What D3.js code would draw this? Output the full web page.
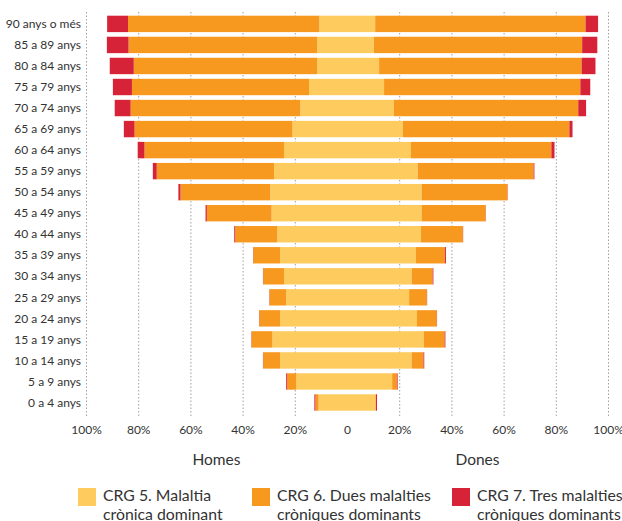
<!DOCTYPE html>
<html>
<head>
<meta charset="utf-8">
<script src="https://cdn.jsdelivr.net/npm/d3@7"></script>
<style>
  body { margin: 0; background: #fff; }
  svg { display: block; font-family: Lato, "Open Sans", sans-serif; }
</style>
</head>
<body>
<script>
const ages = ["90 anys o més", "85 a 89 anys", "80 a 84 anys", "75 a 79 anys", "70 a 74 anys",
  "65 a 69 anys", "60 a 64 anys", "55 a 59 anys", "50 a 54 anys", "45 a 49 anys", "40 a 44 anys",
  "35 a 39 anys", "30 a 34 anys", "25 a 29 anys", "20 a 24 anys", "15 a 19 anys", "10 a 14 anys",
  "5 a 9 anys", "0 a 4 anys"];

// percentages, men (Homes) drawn to the left, women (Dones) to the right
const homesCrg5 = [10.6, 11.4, 11.4, 14.5, 17.9, 20.9, 24.1, 27.9, 29.4, 28.9, 26.7, 25.6, 24.1, 23.3, 25.6, 28.6, 25.6, 19.4, 10.9];
const homesCrg6 = [73.3, 72.3, 70.3, 67.9, 65.0, 60.5, 53.5, 45.0, 34.4, 24.8, 16.1, 10.3, 8.0, 6.4, 8.0, 8.0, 6.5, 3.5, 1.2];
const homesCrg7 = [8.0, 8.3, 9.2, 7.3, 6.1, 4.1, 2.6, 1.5, 0.8, 0.5, 0.4, 0.1, 0.1, 0.1, 0.1, 0.1, 0.1, 0.4, 0.4];
const donesCrg5 = [10.8, 10.3, 12.3, 14.2, 18.0, 21.4, 24.5, 27.1, 28.6, 28.6, 28.3, 26.4, 24.8, 23.8, 26.8, 29.4, 24.8, 17.3, 10.9];
const donesCrg6 = [80.6, 79.8, 77.6, 75.2, 70.6, 63.8, 53.8, 44.4, 32.9, 24.5, 16.1, 11.1, 8.0, 6.8, 7.6, 8.0, 4.5, 1.8, 0.2];
const donesCrg7 = [4.8, 5.8, 5.3, 3.8, 3.0, 1.2, 1.2, 0.3, 0.1, 0.1, 0.1, 0.4, 0.3, 0.1, 0.1, 0.3, 0.3, 0.3, 0.4];

const tickValues = [-100, -80, -60, -40, -20, 0, 20, 40, 60, 80, 100];
const sexLabels = ["Homes", "Dones"];
const groupLabels = [
  ["CRG 5. Malaltia", "crònica dominant"],
  ["CRG 6. Dues malalties", "cròniques dominants"],
  ["CRG 7. Tres malalties", "cròniques dominants"]
];
const colors = ["#fecb5e", "#f7991f", "#d62337"];

const width = 622, height = 521;
const svg = d3.select("body").append("svg")
    .attr("width", width)
    .attr("height", height);

const x = d3.scaleLinear().domain([-100, 100]).range([86, 608]);
const y = d3.scaleBand().domain(ages).range([15.7, 410.7]).paddingInner(0.22).paddingOuter(0);

// gridlines
svg.append("g")
  .selectAll("line")
  .data(tickValues.filter(d => d !== 0))
  .enter().append("line")
    .attr("x1", d => x(d) + 0.5)
    .attr("x2", d => x(d) + 0.5)
    .attr("y1", 12)
    .attr("y2", 416)
    .attr("stroke", "#a0a0a0")
    .attr("stroke-width", 1)
    .attr("stroke-dasharray", "1.5,2");

// build segments
const segs = [];
ages.forEach((age, i) => {
  const h = [homesCrg5[i], homesCrg6[i], homesCrg7[i]];
  const w = [donesCrg5[i], donesCrg6[i], donesCrg7[i]];
  let acc = 0;
  h.forEach((v, k) => { segs.push({age, k, x0: -(acc + v), x1: -acc}); acc += v; });
  acc = 0;
  w.forEach((v, k) => { segs.push({age, k, x0: acc, x1: acc + v}); acc += v; });
});

svg.append("g")
  .selectAll("rect")
  .data(segs)
  .enter().append("rect")
    .attr("x", d => x(d.x0))
    .attr("y", d => y(d.age))
    .attr("width", d => x(d.x1) - x(d.x0))
    .attr("height", y.bandwidth())
    .attr("fill", d => colors[d.k]);

// age labels
svg.append("g")
  .selectAll("text")
  .data(ages)
  .enter().append("text")
    .attr("x", 81)
    .attr("y", d => y(d) + y.bandwidth() / 2)
    .attr("dy", "0.35em")
    .attr("text-anchor", "end")
    .attr("font-size", 12)
    .attr("fill", "#333")
    .text(d => d);

// x axis
const xAxis = svg.append("g")
    .attr("transform", "translate(0,416)")
    .call(d3.axisBottom(x).tickValues(tickValues).tickSize(0).tickPadding(9)
      .tickFormat(d => d === 0 ? "0" : Math.abs(d) + "%"));
xAxis.select(".domain").remove();
xAxis.selectAll("text")
    .attr("font-family", "Lato, sans-serif")
    .attr("font-size", 12)
    .attr("fill", "#333");

// sex labels
svg.append("g")
  .selectAll("text")
  .data(sexLabels)
  .enter().append("text")
    .attr("x", (d, i) => i === 0 ? x(-50) : x(50))
    .attr("y", 465)
    .attr("text-anchor", "middle")
    .attr("font-size", 15.5)
    .attr("fill", "#333")
    .text(d => d);

// legend
const legendX = [78, 252, 452];
const legend = svg.append("g")
  .selectAll("g")
  .data(groupLabels)
  .enter().append("g")
    .attr("transform", (d, i) => `translate(${legendX[i]},0)`);

legend.append("rect")
    .attr("y", 488)
    .attr("width", 18)
    .attr("height", 18)
    .attr("fill", (d, i) => colors[i]);

legend.append("text")
    .attr("x", 25)
    .attr("font-size", 15.8)
    .attr("fill", "#333")
  .selectAll("tspan")
  .data(d => d)
  .enter().append("tspan")
    .attr("x", 25)
    .attr("y", (d, i) => 500.5 + i * 19)
    .text(d => d);
</script>
</body>
</html>
